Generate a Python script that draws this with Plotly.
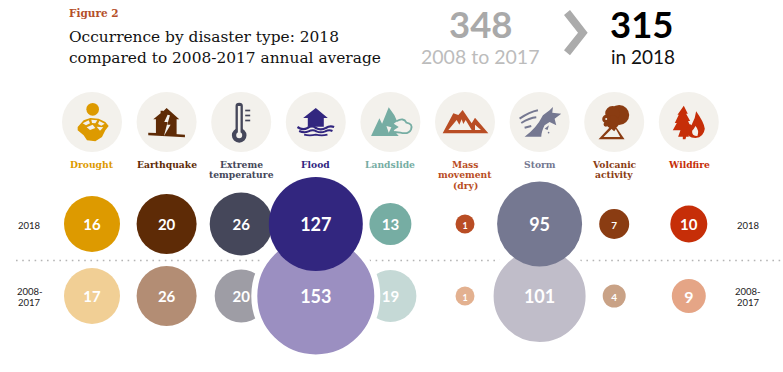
import re
import plotly.graph_objects as go

categories = ["Drought", "Earthquake", "Extreme temperature", "Flood", "Landslide",
              "Mass movement (dry)", "Storm", "Volcanic activity", "Wildfire"]
header_lines = [["Drought"], ["Earthquake"], ["Extreme", "temperature"], ["Flood"], ["Landslide"],
                ["Mass", "movement", "(dry)"], ["Storm"], ["Volcanic", "activity"], ["Wildfire"]]
values_2018 = [16, 20, 26, 127, 13, 1, 95, 7, 10]
values_avg = [17, 26, 20, 153, 19, 1, 101, 4, 9]
rows = ["2008-2017", "2018"]

# styles (the source's circles are not strictly proportional to values)
diam_2018 = [56, 60, 63, 94, 42, 19, 85, 30, 37]
diam_avg = [56, 60, 53, 117, 52, 19, 92, 23, 34]
ring_avg = [0, 0, 0, 6, 0, 0, 8, 0, 0]
font_2018 = [15, 15, 15, 18, 15, 9, 18, 10, 15]
font_avg = [15, 15, 15, 18, 15, 9, 18, 10, 16]
col_2018 = ["#dd9a00", "#5e2b06", "#45475a", "#32267f", "#76ada3", "#b94d24", "#757891", "#8a3c12", "#c62e08"]
col_avg = ["#f1cf95", "#b38d74", "#9e9da5", "#9b8fc1", "#c5d9d6", "#e3b190", "#c0bdc9", "#c9a286", "#e5a586"]
col_label = col_2018

W, H = 783, 372
X0, DX = 92.0, 74.6
Y_AVG, DY = 296.0, 72.0
TEXT_SHIFT = 2.5
ICON_Y = 122
BG = "#f3f1ec"
SERIF = "DejaVu Serif"
SANS = "Lato"


def fx(p):
    return p / W


def fy(p):
    return 1 - p / H


def local_path(d, cx, cy):
    nums = iter(re.findall(r"[A-Za-z]|-?\d+\.?\d*", d))
    out = []
    for t in nums:
        if t.isalpha():
            out.append(t)
        else:
            y = next(nums)
            out.append(f"{fx(cx + float(t) / 3):.5f},{fy(cy + float(y) / 3):.5f}")
    return " ".join(out)


shapes = []


def poly(d, color, cx, cy):
    shapes.append(dict(type="path", path=local_path(d, cx, cy), xref="paper", yref="paper",
                       fillcolor=color, line=dict(width=0), layer="above"))


def stroke(d, color, width, cx, cy):
    shapes.append(dict(type="path", path=local_path(d, cx, cy), xref="paper", yref="paper",
                       fillcolor="rgba(0,0,0,0)", line=dict(width=width, color=color), layer="above"))


def circle(x, y, r, color, cx, cy):
    shapes.append(dict(type="circle", xref="paper", yref="paper",
                       x0=fx(cx + (x - r) / 3), x1=fx(cx + (x + r) / 3),
                       y0=fy(cy + (y + r) / 3), y1=fy(cy + (y - r) / 3),
                       fillcolor=color, line=dict(width=0), layer="above"))


# dotted separator
shapes.append(dict(type="line", xref="paper", yref="paper", x0=fx(16), x1=1, y0=fy(260.5), y1=fy(260.5),
                   line=dict(color="#b5b5b5", width=1.6, dash="1.6px,4.6px"), layer="below"))
# chevron
poly("M0,15 L18,0 L71,68 L18,136 L0,121 L42,68 Z", "#ababab", 564, 10)

for i in range(9):
    cx = X0 + DX * i
    circle(0, 0, 90, BG, cx, ICON_Y)
    c = col_2018[i]
    if i == 0:
        circle(2, -38, 19, c, cx, ICON_Y)
        poly("M-43,15 L-25,-5 L-5,-12 L20,-10 L40,0 L50,12 L40,25 L30,45 L10,58 L-15,55 L-25,40 L-43,25 Z", c, cx, ICON_Y)
        for d in ["M-28,4 L-10,-5 L-6,4 L-18,10 Z", "M-2,-7 L16,-5 L10,4 L0,3 Z", "M22,-3 L38,5 L28,11 L18,6 Z",
                  "M-16,16 L2,8 L10,18 L-6,24 Z", "M14,14 L34,16 L24,26 Z"]:
            poly(d, BG, cx, ICON_Y)
    elif i == 1:
        poly("M0,-42 L38,-8 L30,-8 L30,38 L-32,38 L-32,-8 L-40,-8 L-18,-26 L-18,-34 L-10,-34 L-10,-32 Z", c, cx, ICON_Y)
        poly("M-55,32 L-5,34 L55,38 L55,46 L0,43 L-55,40 Z", c, cx, ICON_Y)
        poly("M3,-22 L-7,0 L3,0 L-8,42 L12,8 L2,8 L10,-20 Z", BG, cx, ICON_Y)
    elif i == 2:
        poly("M-17,-48 Q-17,-58 -6,-58 Q5,-58 5,-48 L5,30 L-17,30 Z", c, cx, ICON_Y)
        circle(-6, 40, 22, c, cx, ICON_Y)
        poly("M-10,-48 L-2,-48 L-2,34 L-10,34 Z", BG, cx, ICON_Y)
        circle(-6, 40, 9, BG, cx, ICON_Y)
        for y in [-37, -22, -7]:
            poly(f"M12,{y} L27,{y} L27,{y + 5} L12,{y + 5} Z", c, cx, ICON_Y)
    elif i == 3:
        poly("M0,-42 L36,-12 L24,-12 L24,14 L-24,14 L-24,-12 L-38,-12 Z", c, cx, ICON_Y)
        stroke("M-55,15 Q-40,26 -25,18 Q-10,8 0,18 Q15,26 30,18 Q42,10 55,15", c, 2.2, cx, ICON_Y)
        stroke("M-50,27 Q-35,34 -22,28 Q-8,22 2,28 Q15,34 28,28 Q40,22 50,27", c, 2, cx, ICON_Y)
        stroke("M-35,38 Q-18,42 0,38 Q18,42 35,38", c, 1.8, cx, ICON_Y)
    elif i == 4:
        poly("M-58,42 L-33,-11 L-25,5 L-5,-44 L12,-20 L20,-2 L10,5 L25,15 L10,25 L25,42 Z", c, cx, ICON_Y)
        poly("M-12,12 L-5,32 L3,16 Z", BG, cx, ICON_Y)
        stroke("M18,-2 Q40,-15 48,2 Q68,5 62,22 Q55,38 30,32 L12,30", c, 1.8, cx, ICON_Y)
    elif i == 5:
        poly("M-67,34 L-35,-26 L-20,-21 L-7,-36 L20,4 L30,-13 L70,34 Z", c, cx, ICON_Y)
        poly("M-50,24 L-25,-6 L-17,8 L-10,-8 L-5,6 L2,-6 L20,24 Z", BG, cx, ICON_Y)
        poly("M30,24 L30,8 L48,24 Z", BG, cx, ICON_Y)
    elif i == 6:
        poly("M-45,44 Q-10,20 10,-20 L30,-35 L40,-45 L38,-28 L65,-25 L45,-10 L50,10 L30,0 L15,10 Q5,30 5,44 Z", c, cx, ICON_Y)
        stroke("M-60,-10 Q-30,-30 -5,-35", c, 2, cx, ICON_Y)
        stroke("M-55,3 Q-30,-12 -10,-14", c, 2, cx, ICON_Y)
        stroke("M-45,17 L-25,12", c, 2, cx, ICON_Y)
        poly("M15,20 L28,10 L24,24 Z", c, cx, ICON_Y)
        circle(27, 32, 2.5, c, cx, ICON_Y)
    elif i == 7:
        circle(15, -21, 30, c, cx, ICON_Y)
        circle(-5, -26, 22, c, cx, ICON_Y)
        circle(-5, 0, 20, c, cx, ICON_Y)
        circle(-23, -9, 13, c, cx, ICON_Y)
        circle(-25, 7, 7, c, cx, ICON_Y)
        circle(-24, -9, 3, BG, cx, ICON_Y)
        poly("M-47,52 L-12,14 L5,14 L31,52 Z", c, cx, ICON_Y)
        poly("M-32,45 L-8,21 L0,28 L5,21 L18,45 Z", BG, cx, ICON_Y)
    else:
        poly("M-15,-49 L-3,-25 L-8,-25 L4,-3 L-2,-3 L4,12 L-5,22 L0,44 L-8,44 L-10,52 L-18,52 L-18,44 L-32,44 L-25,25 "
             "L-48,25 L-36,3 L-42,3 L-30,-22 L-34,-22 Z", c, cx, ICON_Y)
        poly("M22,-32 Q45,0 48,20 Q45,45 20,48 Q-6,48 -8,24 Q0,0 8,10 Q20,-10 22,-32 Z", c, cx, ICON_Y)
        poly("M20,12 Q32,25 26,42 Q8,42 10,26 Q14,24 20,12 Z", BG, cx, ICON_Y)

annotations = []


def note(text, x, y, size, color, anchor="center", font=SANS, bold=False):
    annotations.append(dict(text=f"<b>{text}</b>" if bold else text,
                            x=fx(x), y=fy(y), xref="paper", yref="paper",
                            xanchor=anchor, yanchor="middle", showarrow=False, align=anchor,
                            font=dict(family=font, size=size, color=color),
                            borderpad=0, borderwidth=0))


note("Figure 2", 69, 13, 10.5, "#b5502a", "left", SERIF, True)
note("Occurrence by disaster type: 2018", 69, 37, 15.4, "#111111", "left", SERIF)
note("compared to 2008-2017 annual average", 69, 58, 15.4, "#111111", "left", SERIF)
note("348", 481, 24, 36.5, "#a9a9a9", "center", SANS, True)
note("2008 to 2017", 480, 57, 19.5, "#bcbcbc")
note("315", 642, 24, 36.5, "#000000", "center", SANS, True)
note("in 2018", 643, 57, 19, "#111111")
for lx in (30, 748):
    note("2018", lx, 225, 9.5, "#222222")
    note("2008-", lx, 291, 9.5, "#222222")
    note("2017", lx, 302, 9.5, "#222222")
for cat, lines, col in zip(categories, header_lines, col_label):
    for j, line in enumerate(lines):
        annotations.append(dict(text=f"<b>{line}</b>", x=cat, y=fy(164 + 10.5 * j), xref="x", yref="paper",
                                xanchor="center", yanchor="middle", showarrow=False, align="center",
                                font=dict(family=SERIF, size=9.2, color=col)))

# largest circles last, so that they lie over their neighbours
order = sorted(range(9), key=lambda k: diam_avg[k])


def pick(seq):
    return [seq[k] for k in order]


fig = go.Figure()
fig.add_trace(go.Scatter(
    x=pick(categories), y=[rows[0]] * 9, mode="markers", cliponaxis=False,
    marker=dict(size=[d + r for d, r in zip(pick(diam_avg), pick(ring_avg))], color=pick(col_avg), opacity=1,
                line=dict(width=pick(ring_avg), color="white")),
    hoverinfo="skip", showlegend=False))
fig.add_trace(go.Scatter(
    x=categories, y=[rows[1]] * 9, mode="markers", cliponaxis=False,
    marker=dict(size=diam_2018, color=col_2018, opacity=1, line=dict(width=0)),
    hoverinfo="skip", showlegend=False))
for row, vals, sizes in ((rows[0], values_avg, font_avg), (rows[1], values_2018, font_2018)):
    fig.add_trace(go.Scatter(
        x=categories, y=[row] * 9, yaxis="y2", mode="text", text=[str(v) for v in vals],
        textposition="middle center", cliponaxis=False,
        textfont=dict(family=SANS, size=sizes, color="white", weight="bold"),
        hoverinfo="skip", showlegend=False))

y_range = [(Y_AVG - H) / DY, Y_AVG / DY]
fig.update_layout(
    width=W, height=H, margin=dict(l=0, r=0, t=0, b=0), paper_bgcolor="white", plot_bgcolor="white",
    showlegend=False, shapes=shapes, annotations=annotations,
    xaxis=dict(type="category", categoryorder="array", categoryarray=categories,
               range=[-X0 / DX, (W - X0) / DX], visible=False, fixedrange=True),
    yaxis=dict(type="category", categoryorder="array", categoryarray=rows,
               range=y_range, visible=False, fixedrange=True),
    yaxis2=dict(type="category", categoryorder="array", categoryarray=rows, overlaying="y",
                range=[v + TEXT_SHIFT / DY for v in y_range], visible=False, fixedrange=True),
)
fig.write_html("out.html", config=dict(displayModeBar=False),
               post_script="document.body.style.margin='0';")
